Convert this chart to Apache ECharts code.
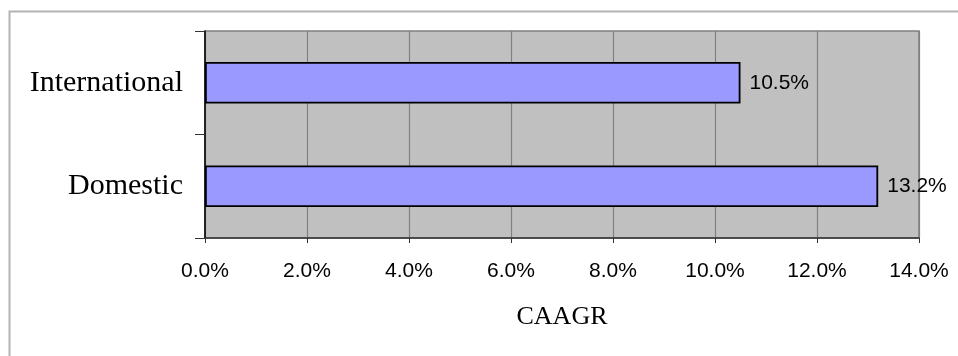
<!DOCTYPE html>
<html>
<head>
<meta charset="utf-8">
<script src="https://cdn.jsdelivr.net/npm/echarts@6/dist/echarts.min.js"></script>
<style>
html,body{margin:0;padding:0;background:#fff;}
#chart{width:958px;height:356px;}
</style>
</head>
<body>
<div id="chart"></div>
<script>
const categories = ['Domestic', 'International'];
const values = [13.2, 10.5];
const axisName = 'CAAGR';
const xMin = 0, xMax = 14, xStep = 2;

const chart = echarts.init(document.getElementById('chart'), null, {renderer: 'canvas'});
const sans = "'Liberation Sans', Arial, sans-serif";
const serif = "'Liberation Serif', 'Times New Roman', serif";

chart.setOption({
  animation: false,
  backgroundColor: '#ffffff',
  graphic: [{
    type: 'rect',
    shape: {x: 9.5, y: 11.5, width: 1000, height: 400},
    style: {fill: 'none', stroke: '#b4b4b4', lineWidth: 2},
    silent: true,
    z: -10
  }],
  grid: {
    left: 205, top: 31, right: 39, bottom: 118,
    show: true,
    backgroundColor: '#c0c0c0',
    borderColor: '#808080',
    borderWidth: 1.5
  },
  xAxis: {
    type: 'value',
    min: xMin, max: xMax, interval: xStep,
    name: axisName,
    nameLocation: 'middle',
    nameGap: 66,
    nameTextStyle: {fontFamily: serif, fontSize: 26, color: '#000'},
    axisLine: {show: true, lineStyle: {color: '#333', width: 1.5}},
    axisTick: {show: true, length: 5, lineStyle: {color: '#333', width: 1}},
    splitLine: {show: true, lineStyle: {color: '#808080', width: 1.2}},
    axisLabel: {
      fontFamily: sans, fontSize: 21, color: '#000', margin: 23,
      formatter: v => v.toFixed(1) + '%'
    }
  },
  yAxis: {
    type: 'category',
    data: categories,
    axisLine: {show: true, lineStyle: {color: '#000', width: 1.5}},
    axisTick: {show: true, length: 10, alignWithLabel: false, lineStyle: {color: '#333', width: 1}},
    splitLine: {show: false},
    axisLabel: {fontFamily: serif, fontSize: 30, color: '#000', margin: 22}
  },
  series: [{
    type: 'bar',
    data: values,
    barWidth: '40%',
    itemStyle: {color: '#9999ff', borderColor: '#000', borderWidth: 1.8},
    label: {
      show: true, position: 'right', distance: 9,
      fontFamily: sans, fontSize: 21, color: '#000',
      formatter: p => p.value.toFixed(1) + '%'
    }
  }]
});
</script>
</body>
</html>
